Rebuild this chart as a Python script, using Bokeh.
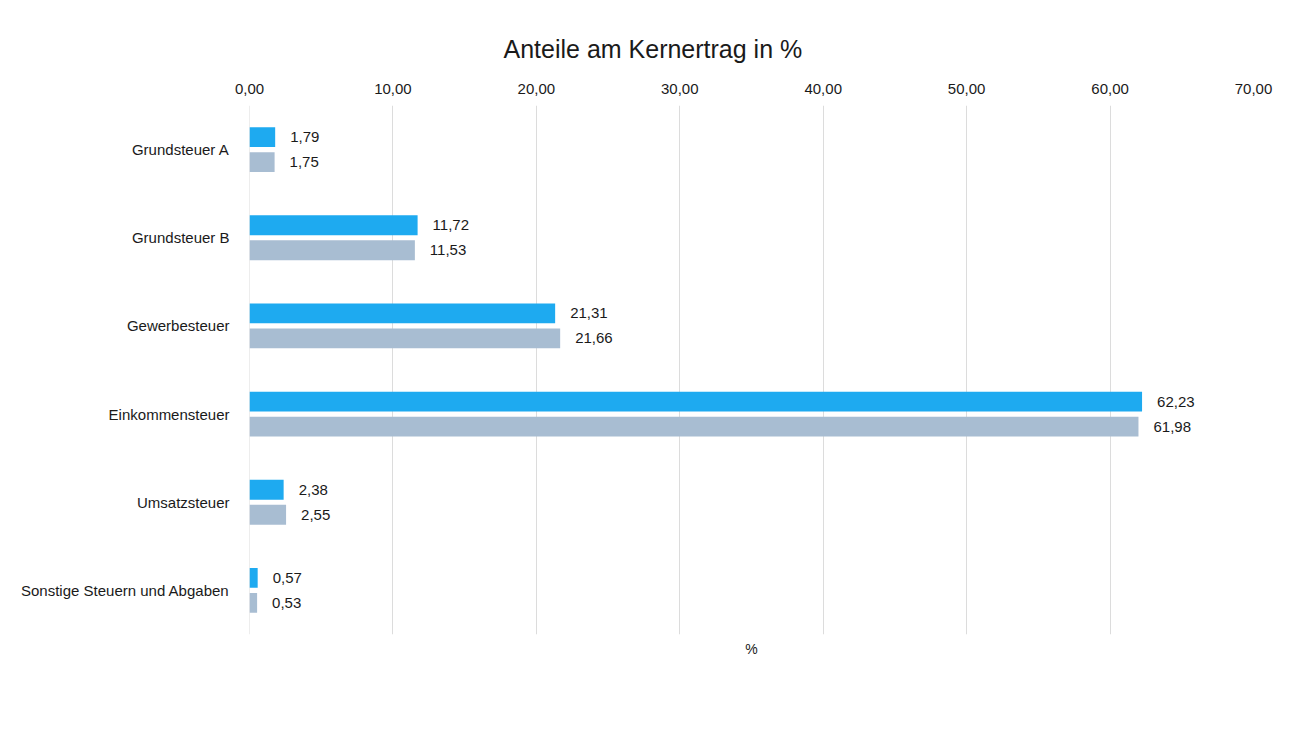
from bokeh.plotting import figure
from bokeh.models import (FactorRange, ColumnDataSource, LinearAxis, FixedTicker,
                          CustomJSTickFormatter, Legend, LegendItem, Range1d, Span)
from bokeh.transform import dodge
from bokeh.core.properties import value
from bokeh.embed import file_html
from bokeh.resources import INLINE

categories = ["Grundsteuer A", "Grundsteuer B", "Gewerbesteuer", "Einkommensteuer",
              "Umsatzsteuer", "Sonstige Steuern und Abgaben"]
plan_2020 = [1.79, 11.72, 21.31, 62.23, 2.38, 0.57]
ist_2020 = [1.75, 11.53, 21.66, 61.98, 2.55, 0.53]
x_ticks = [0, 10, 20, 30, 40, 50, 60, 70]

PLAN_COLOR = "#1eaaf0"
IST_COLOR = "#a8bdd2"
FONT = "Liberation Sans"
TXT = "#1a1a1a"

def fmt(v):
    return f"{v:.2f}".replace(".", ",")

src = ColumnDataSource(dict(
    cat=categories,
    plan=plan_2020,
    ist=ist_2020,
    plan_lbl=[fmt(v) for v in plan_2020],
    ist_lbl=[fmt(v) for v in ist_2020],
))

p = figure(frame_width=1004, frame_height=529, output_backend="svg", toolbar_location=None,
           y_range=FactorRange(*reversed(categories)),
           x_range=Range1d(0, 70), x_axis_location=None,
           min_border_left=249, min_border_right=32, min_border_top=105,
           min_border_bottom=91)

p.title.text = "Anteile am Kernertrag in %"
p.title.align = "left"
p.title.text_font = FONT
p.title.text_font_size = "25px"
p.title.text_font_style = "normal"
p.title.text_color = TXT
p.title.offset = 254
p.title.standoff = 36

r_plan = p.hbar(y=dodge("cat", 0.142, range=p.y_range), right="plan", left=0, height=0.225,
                source=src, color=PLAN_COLOR, line_color=None)
r_ist = p.hbar(y=dodge("cat", -0.142, range=p.y_range), right="ist", left=0, height=0.225,
               source=src, color=IST_COLOR, line_color=None)

p.text(x="plan", y=dodge("cat", 0.142, range=p.y_range), text="plan_lbl", source=src,
       x_offset=15, text_baseline="middle", text_font=value(FONT),
       text_font_size="15px", text_color=TXT)
p.text(x="ist", y=dodge("cat", -0.142, range=p.y_range), text="ist_lbl", source=src,
       x_offset=15, text_baseline="middle", text_font=value(FONT),
       text_font_size="15px", text_color=TXT)

top_axis = LinearAxis(ticker=FixedTicker(ticks=x_ticks),
                      formatter=CustomJSTickFormatter(code="return tick.toFixed(2).replace('.', ',');"))
top_axis.axis_line_color = None
top_axis.major_tick_line_color = None
top_axis.minor_tick_line_color = None
top_axis.major_label_text_font = FONT
top_axis.major_label_text_font_size = "15px"
top_axis.major_label_text_color = TXT
top_axis.major_label_standoff = 6
p.add_layout(top_axis, "above")

bottom_axis = LinearAxis(ticker=FixedTicker(ticks=[]), axis_label="%")
bottom_axis.axis_line_color = None
bottom_axis.major_tick_line_color = None
bottom_axis.minor_tick_line_color = None
bottom_axis.axis_label_text_font = FONT
bottom_axis.axis_label_text_font_size = "14px"
bottom_axis.axis_label_text_font_style = "normal"
bottom_axis.axis_label_text_color = TXT
bottom_axis.axis_label_standoff = 6
p.add_layout(bottom_axis, "below")

ya = p.yaxis[0]
ya.axis_line_color = None
ya.major_tick_line_color = None
ya.minor_tick_line_color = None
ya.major_label_text_font = FONT
ya.major_label_text_font_size = "15px"
ya.major_label_text_color = TXT
ya.major_label_standoff = 14

p.xgrid.ticker = FixedTicker(ticks=x_ticks)
p.xgrid.grid_line_color = "#dcdcdc"
p.ygrid.grid_line_color = None
p.outline_line_color = None
p.add_layout(Span(location=0, dimension="height", line_color="#dcdcdc", line_width=1,
                  level="underlay"))

legend = Legend(items=[LegendItem(label="Plan-Wert 2020", renderers=[r_plan]),
                       LegendItem(label="Ist-Wert 2020", renderers=[r_ist])],
                orientation="horizontal", location="center")
legend.label_text_font = FONT
legend.label_text_font_size = "14px"
legend.label_text_color = TXT
legend.glyph_width = 7
legend.glyph_height = 7
legend.label_standoff = 3
legend.spacing = 31
legend.border_line_color = None
legend.background_fill_alpha = 0
legend.margin = 26
legend.padding = 0
p.add_layout(legend, "below")

open("out.html", "w").write(file_html(p, INLINE))
